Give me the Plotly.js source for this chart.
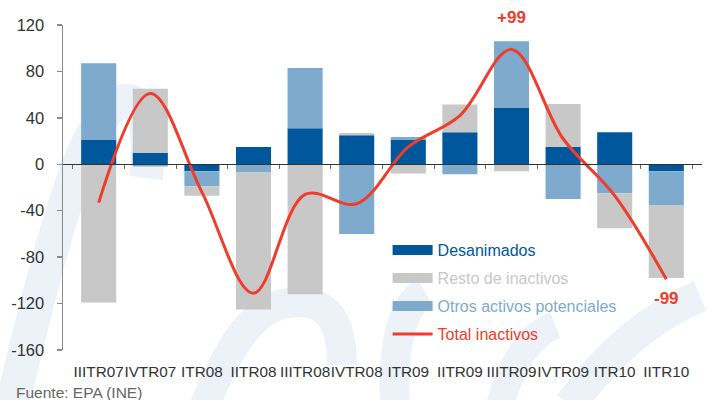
<!DOCTYPE html>
<html>
<head>
<meta charset="utf-8">
<script src="https://cdn.plot.ly/plotly-3.0.1.min.js"></script>
<style>html,body{margin:0;padding:0;background:#fff}#chart{width:713px;height:400px}</style>
</head>
<body>
<div id="chart"></div>
<script>
// ---- data ----
const categories = ["IIITR07","IVTR07","ITR08","IITR08","IIITR08","IVTR08","ITR09","IITR09","IIITR09","IVTR09","ITR10","IITR10"];
const desanimados = [21, 10, -6, 15, 31, 25, 21, 27.5, 49, 15, 27.5, -6];
const otrosActivos = [66, -2, -13, -7, 52, -60, 2.5, -8.5, 57, -30, -25, -29];
const restoInactivos = [-119, 55, -8, -118, -112, 2, -8, 24, -6, 37, -30, -63];
const totalInactivos = [-33, 61, -24, -111, -26, -34, 15, 42, 99, 22, -27, -99];
const yTicks = [-160, -120, -80, -40, 0, 40, 80, 120];

const C_DES = "#00579b", C_RES = "#c8c8c8", C_OTR = "#7eaacd", C_TOT = "#f03c2a";
const FONT = "Liberation Sans, Arial, Helvetica, sans-serif";

// plot-area geometry (pixels) for decorative watermark shapes
const L = 63, R = 11, T = 25, B = 50, W = 713, H = 400;
const pw = W - L - R, ph = H - T - B;
function P(x, y) { return ((x - L) / pw).toFixed(4) + "," + (1 - (y - T) / ph).toFixed(4); }
function wm(d, w) {
  return {type: "path", xref: "paper", yref: "paper", layer: "below",
    path: d, line: {color: "#ecf2f7", width: w}, fillcolor: "rgba(0,0,0,0)"};
}

const traces = [
  {type: "bar", x: categories, y: desanimados, name: "Desanimados", marker: {color: C_DES}, showlegend: false, hoverinfo: "skip"},
  {type: "bar", x: categories, y: otrosActivos, name: "Otros activos potenciales", marker: {color: C_OTR}, showlegend: false, hoverinfo: "skip"},
  {type: "bar", x: categories, y: restoInactivos, name: "Resto de inactivos", marker: {color: C_RES}, showlegend: false, hoverinfo: "skip"},
  {type: "scatter", mode: "lines", x: categories, y: totalInactivos, name: "Total inactivos",
    line: {color: C_TOT, width: 3, shape: "spline", smoothing: 1}, showlegend: false, hoverinfo: "skip"},
  // legend entries
  {type: "scatter", mode: "lines", x: [null], y: [null], name: '<span style="color:' + C_DES + '">Desanimados</span>', line: {color: C_DES, width: 11}, legendgroup: "a"},
  {type: "scatter", mode: "lines", x: [null], y: [null], name: '<span style="color:' + C_RES + '">Resto de inactivos</span>', line: {color: C_RES, width: 11}, legendgroup: "b"},
  {type: "scatter", mode: "lines", x: [null], y: [null], name: '<span style="color:' + C_OTR + '">Otros activos potenciales</span>', line: {color: C_OTR, width: 11}, legendgroup: "c"},
  {type: "scatter", mode: "lines", x: [null], y: [null], name: '<span style="color:' + C_TOT + '">Total inactivos</span>', line: {color: C_TOT, width: 3}, legendgroup: "d"},
  // zero-line axis carrier
  {type: "scatter", x: categories, y: categories.map(() => null), xaxis: "x2", showlegend: false, hoverinfo: "skip"}
];

const iMax = totalInactivos.indexOf(Math.max(...totalInactivos));
const iLast = totalInactivos.length - 1;

const layout = {
  width: W, height: H,
  margin: {l: L, r: R, t: T, b: B, pad: 0},
  paper_bgcolor: "#fff", plot_bgcolor: "rgba(0,0,0,0)",
  font: {family: FONT, size: 16, color: "#333"},
  barmode: "relative", bargap: 0.32,
  showlegend: true,
  legend: {x: 0.508, y: 0.36, xanchor: "left", yanchor: "top", bgcolor: "rgba(0,0,0,0)",
    font: {family: FONT, size: 16}, traceorder: "grouped", tracegroupgap: 4.2, itemwidth: 40},
  xaxis: {type: "category", showline: false, ticks: "", showgrid: false, zeroline: false, tickangle: 0,
    tickfont: {family: FONT, size: 15.3, color: "#333"}, ticklabelstandoff: 11},
  xaxis2: {type: "category", overlaying: "x", matches: "x", anchor: "free", position: 160 / 280,
    showline: true, linecolor: "#333", linewidth: 1, ticks: "outside", ticklen: 4, tickcolor: "#666",
    tickson: "boundaries", showticklabels: false, showgrid: false, zeroline: false},
  yaxis: {range: [-160, 120], tickvals: yTicks, ticktext: yTicks.map(String), showgrid: false,
    zeroline: false, showline: true, linecolor: "#8a8a8a", linewidth: 1.5,
    ticks: "outside", ticklen: 5, tickcolor: "#8a8a8a", tickwidth: 1.5,
    tickfont: {family: FONT, size: 16.5, color: "#333"}, ticklabelstandoff: 9},
  shapes: [
    wm("M" + P(12, 405) + " C" + P(45, 270) + " " + P(80, 120) + " " + P(120, 102) + " C" + P(142, 94) + " " + P(152, 125) + " " + P(146, 178), 34),
    wm("M" + P(205, 405) + " C" + P(235, 330) + " " + P(262, 302) + " " + P(298, 302) + " C" + P(328, 302) + " " + P(342, 322) + " " + P(342, 365), 30),
    wm("M" + P(395, 405) + " C" + P(392, 345) + " " + P(402, 305) + " " + P(425, 292), 30),
    wm("M" + P(500, 405) + " C" + P(512, 360) + " " + P(530, 335) + " " + P(555, 325), 28),
    wm("M" + P(570, 405) + " C" + P(610, 350) + " " + P(655, 315) + " " + P(700, 296), 32)
  ],
  annotations: [
    {xref: "x", yref: "y", x: categories[iMax], y: totalInactivos[iMax], text: "<b>+" + totalInactivos[iMax] + "</b>",
      showarrow: false, yshift: 32, font: {family: FONT, size: 17, color: C_TOT}},
    {xref: "x", yref: "y", x: categories[iLast], y: totalInactivos[iLast], text: "<b>" + totalInactivos[iLast] + "</b>",
      showarrow: false, yshift: -19, font: {family: FONT, size: 17, color: C_TOT}},
    {xref: "paper", yref: "paper", x: P(14, 393).split(",")[0], y: P(14, 393).split(",")[1], xanchor: "left", yanchor: "middle",
      text: "Fuente: EPA (INE)", showarrow: false, font: {family: FONT, size: 15.5, color: "#666"}}
  ]
};

Plotly.newPlot("chart", traces, layout, {staticPlot: true});
</script>
</body>
</html>
